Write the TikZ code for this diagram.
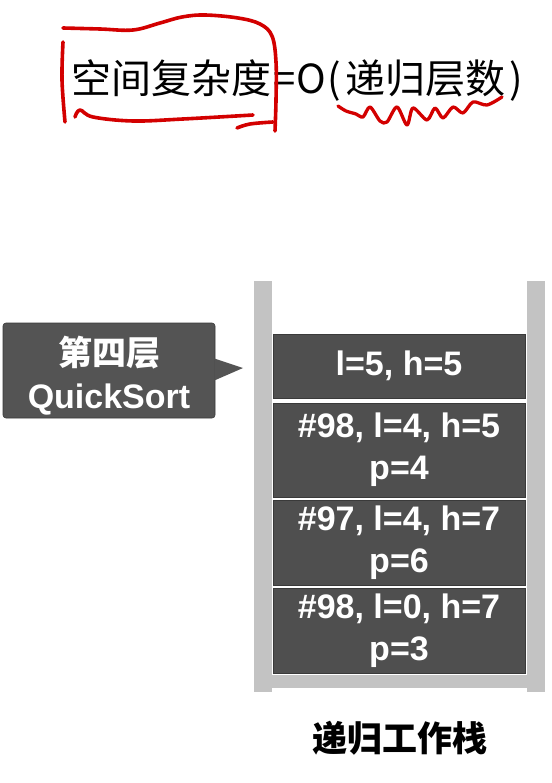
\documentclass[tikz,border=0pt]{standalone}
\usepackage{fontspec}
\setmainfont{Liberation Sans}
\newfontfamily\cjk{Noto Sans CJK SC}
\definecolor{wallgray}{HTML}{C3C3C3}
\definecolor{boxgray}{HTML}{4F4F4F}
\definecolor{boxedge}{HTML}{3A3A3A}
\definecolor{calloutgray}{HTML}{545454}
\definecolor{inkred}{HTML}{D30000}
\begin{document}
\begin{tikzpicture}[x=1pt,y=-1pt,
  wall/.style={fill=wallgray,draw=none},
  frame/.style={rectangle,fill=boxgray,draw=boxedge,line width=0.8pt,text=white,
    font=\fontsize{34}{42}\selectfont\bfseries,align=center,
    minimum width=252pt,inner sep=0pt},
  calloutbox/.style={rectangle,rounded corners=3pt,fill=calloutgray,draw=boxedge,
    line width=0.6pt,minimum width=212pt,minimum height=95pt,inner sep=0pt},
  callouttext/.style={text=white,align=center,inner sep=0pt,
    font=\fontsize{34}{43}\selectfont\bfseries},
  redink/.style={draw=inkred,line width=3.6pt,line cap=round,line join=round}
]
\useasboundingbox[fill=white] (0,0) rectangle (551,783);

% title
\node[anchor=west,inner sep=0pt,font=\cjk\fontsize{40}{48}\selectfont] (title) at (71,81) {空间复杂度\kern2pt=\kern1pt O\kern1.5pt(\kern4pt递归层数\kern4pt)};

% red annotations
\draw[redink] plot[smooth,tension=0.6] coordinates {(63,28) (100,29) (133,30) (160,23) (182,17) (205,15) (238,18) (260,24) (272,36) (276,62) (276,100) (275,131)};
\draw[redink] plot[smooth,tension=0.6] coordinates {(63,42) (62,80) (65,122)};
\draw[redink] plot[smooth,tension=0.6] coordinates {(75,117) (80,110) (93,117) (133,121) (183,119) (253,115)};
\draw[redink] plot[smooth,tension=0.6] coordinates {(237,128) (250,124) (273,122)};
\draw[redink,line width=3.3pt] plot[smooth,tension=0.5] coordinates {(338,106) (346,111) (356,114) (363,117) (370,107) (380,121) (387,122) (397,107) (407,125) (413,108) (427,120) (435,108) (443,118) (453,107) (463,113) (473,102) (487,105) (502,97)};

% stack walls
\fill[wall] (254,281) rectangle (272,692);
\fill[wall] (527,281) rectangle (545,692);
\fill[wall] (272,675) rectangle (527,688);

% stack frames
\node[frame,minimum height=64pt] (f1) at (399,366) {l=5, h=5};
\node[frame,minimum height=94pt] (f2) at (399,450) {\#98, l=4, h=5\\p=4};
\node[frame,minimum height=85pt] (f3) at (399,542.5) {\#97, l=4, h=7\\p=6};
\node[frame,minimum height=85pt] (f4) at (399,630.5) {\#98, l=0, h=7\\p=3};

% callout
\node[calloutbox] (cb) at (109,370.5) {};
\coordinate (tip) at (243,368);
\fill[calloutgray] ([xshift=-1pt,yshift=12pt]cb.east) -- (tip) -- ([xshift=-1pt,yshift=-10pt]cb.east) -- cycle;
\node[callouttext,yshift=-5pt] (cbt) at (cb.center) {{\cjk\bfseries 第四层}\\QuickSort};

% bottom label
\node[font=\cjk\bfseries\fontsize{35}{42}\selectfont] (lbl) at (400,738) {递归工作栈};
\end{tikzpicture}
\end{document}
